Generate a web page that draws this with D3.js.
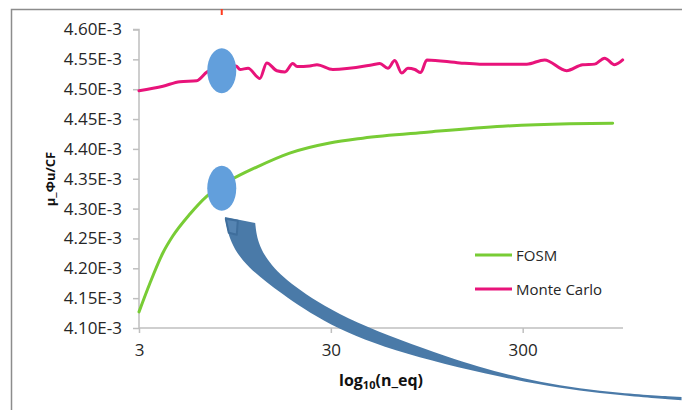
<!DOCTYPE html>
<html>
<head>
<meta charset="utf-8">
<script src="https://cdn.jsdelivr.net/npm/d3@7"></script>
<style>
  body { margin: 0; background: #fff; }
  svg { display: block; font-family: "Open Sans", "Liberation Sans", sans-serif; }
</style>
</head>
<body>
<div id="chart"></div>
<script>
// values in units of 1E-3
var fosmN = [3, 3.42, 4.0, 4.5, 5.53, 6.78, 8.93, 12.4, 18.3, 29.6, 44, 95, 236, 527, 883];
var fosmValues = [4.127, 4.175, 4.226, 4.254, 4.291, 4.321, 4.347, 4.370, 4.393, 4.410, 4.418, 4.428, 4.438, 4.442, 4.443];

var mcN = [3, 4.0, 4.9, 6.0, 6.8, 8.1, 9.6, 10.1, 11.1, 12.8, 13.9, 15.7, 17.3, 19.0, 20, 23.3, 25.4, 30.7, 49.6, 54, 59.5, 64.6, 70.2, 75.6, 82.2, 88.2, 95, 141, 179, 315, 390, 508, 616, 711, 802, 904, 996];
var mcValues = [4.4975, 4.505, 4.5126, 4.514, 4.529, 4.536, 4.539, 4.533, 4.535, 4.518, 4.544, 4.531, 4.529, 4.543, 4.538, 4.539, 4.541, 4.533, 4.541, 4.543, 4.535, 4.548, 4.527, 4.535, 4.533, 4.528, 4.549, 4.544, 4.542, 4.542, 4.549, 4.531, 4.541, 4.542, 4.552, 4.541, 4.549];

var yTicks = [4.10, 4.15, 4.20, 4.25, 4.30, 4.35, 4.40, 4.45, 4.50, 4.55, 4.60];
var xTicks = [3, 30, 300];
var seriesNames = ["FOSM", "Monte Carlo"];
var seriesColors = ["#78cc35", "#e8137a"];

// callout marks (n, value)
var calloutN = 8.1;
var calloutValues = [4.531, 4.334];
var arrowLower = [[8.41, 4.286], [8.93, 4.242], [10.96, 4.202], [16.3, 4.159], [28.6, 4.105], [68.8, 4.0565], [289, 4.0096], [756, 3.9894], [2019, 3.979]];
var arrowUpper = [[12.1, 4.276], [12.4, 4.244], [14.4, 4.2055], [19.9, 4.1653], [37.7, 4.110], [125, 4.0492], [289, 4.0146], [756, 3.9928], [2019, 3.9844]];

var width = 682, height = 410;
var svg = d3.select("#chart").append("svg")
  .attr("width", width)
  .attr("height", height);

var x = d3.scaleLog().domain([3, 1000]).range([139, 623]);
var y = d3.scaleLinear().domain([4.10, 4.60]).range([328, 29.5]);

// outer frame
svg.append("path")
  .attr("d", "M11.5," + height + "V9.5H" + width)
  .attr("fill", "none")
  .attr("stroke", "#8c8c8c")
  .attr("stroke-width", 1.5);

// axes
var yAxis = svg.append("g")
  .attr("transform", "translate(139,0)")
  .call(d3.axisLeft(y).tickValues(yTicks).tickSize(6).tickPadding(11)
    .tickFormat(function(d) { return d.toFixed(2) + "E-3"; }));

var xAxis = svg.append("g")
  .attr("transform", "translate(0,328)")
  .call(d3.axisBottom(x).tickValues(xTicks).tickSize(5).tickPadding(11)
    .tickFormat(d3.format("d")));

svg.selectAll(".domain").attr("stroke", "#bfbfbf").attr("stroke-width", 1.5);
svg.selectAll(".tick line").attr("stroke", "#bfbfbf").attr("stroke-width", 1.5);
yAxis.select(".domain").attr("d", "M-6," + y(4.60) + "H0V" + y(4.10));
xAxis.select(".domain").attr("d", "M" + x(3) + ",0H" + x(1000));
svg.selectAll(".tick text")
  .attr("fill", "#262626")
  .attr("font-size", "17px")
  .attr("font-family", "'Open Sans', sans-serif");

// axis titles
var xTitle = svg.append("text")
  .attr("x", 381)
  .attr("y", 386)
  .attr("text-anchor", "middle")
  .attr("font-size", "16px")
  .attr("font-weight", "bold")
  .attr("fill", "#111");
xTitle.append("tspan").text("log");
xTitle.append("tspan").attr("font-size", "11px").attr("dy", 3).text("10");
xTitle.append("tspan").attr("dy", -3).text("(n_eq)");

svg.append("text")
  .attr("transform", "translate(55,179) rotate(-90)")
  .attr("text-anchor", "middle")
  .attr("font-size", "13px")
  .attr("font-weight", "bold")
  .attr("fill", "#111")
  .text("μ_Φu/CF");

// lines
var line = d3.line()
  .x(function(d) { return x(d[0]); })
  .y(function(d) { return y(d[1]); })
  .curve(d3.curveMonotoneX);

var series = [d3.zip(fosmN, fosmValues), d3.zip(mcN, mcValues)];

svg.selectAll(".series")
  .data(series)
  .enter()
    .append("path")
    .attr("class", "series")
    .attr("d", line)
    .attr("fill", "none")
    .attr("stroke", function(d, i) { return seriesColors[i]; })
    .attr("stroke-width", 3)
    .attr("stroke-linejoin", "round")
    .attr("stroke-linecap", "round");

// legend
var legend = svg.selectAll(".legend")
  .data(seriesNames)
  .enter()
    .append("g")
    .attr("class", "legend")
    .attr("transform", function(d, i) { return "translate(475," + (255 + i * 34) + ")"; });

legend.append("line")
  .attr("x1", 0).attr("x2", 37)
  .attr("stroke", function(d, i) { return seriesColors[i]; })
  .attr("stroke-width", 3);

legend.append("text")
  .attr("x", 41)
  .attr("y", 6)
  .attr("font-size", "15px")
  .attr("fill", "#262626")
  .text(function(d) { return d; });

// callout: arrow band
var band = d3.area()
  .x0(function(d) { return x(d[0][0]); })
  .y0(function(d) { return y(d[0][1]); })
  .x1(function(d) { return x(d[1][0]); })
  .y1(function(d) { return y(d[1][1]); })
  .curve(d3.curveBasis);

svg.append("path")
  .attr("d", band(d3.zip(arrowLower, arrowUpper)))
  .attr("fill", "#4a7aa8");

// small curl at arrow tip
svg.append("path")
  .attr("d", "M" + x(8.5) + "," + y(4.283) + "l12,2l-1,14l-8,-2z")
  .attr("fill", "#5584b2")
  .attr("stroke", "#3f6e9c")
  .attr("stroke-width", 2)
  .attr("stroke-linejoin", "round");

// callout ellipses
svg.selectAll(".callout")
  .data(calloutValues)
  .enter()
    .append("ellipse")
    .attr("class", "callout")
    .attr("cx", x(calloutN))
    .attr("cy", function(d) { return y(d); })
    .attr("rx", 14.5)
    .attr("ry", 22.5)
    .attr("fill", "#629fdc");

// red mark on frame
svg.append("line")
  .attr("x1", x(calloutN)).attr("x2", x(calloutN))
  .attr("y1", 9).attr("y2", 15)
  .attr("stroke", "#ff3b1f")
  .attr("stroke-width", 2);
</script>
</body>
</html>
